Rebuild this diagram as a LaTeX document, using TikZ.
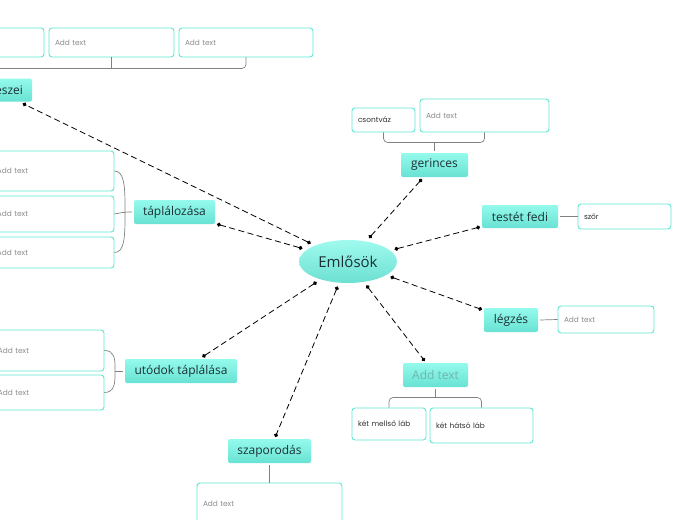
\documentclass[tikz,border=0pt]{standalone}
\usepackage{fontspec}
\usepackage{tikz}
\usetikzlibrary{arrows.meta,shapes.geometric}
\newfontfamily\topicfont{Open Sans}
\newfontfamily\leaffont{Poppins}
\definecolor{topictop}{RGB}{148,250,236}
\definecolor{topicbot}{RGB}{104,226,211}
\definecolor{maintop}{RGB}{160,250,238}
\definecolor{mainbot}{RGB}{108,224,210}
\definecolor{leafline}{RGB}{94,232,210}
\definecolor{topictext}{RGB}{28,48,52}
\definecolor{bracegray}{RGB}{130,130,130}
\definecolor{hinttext}{RGB}{140,140,140}
\definecolor{hinttopic}{RGB}{112,182,174}

\begin{document}
\begin{tikzpicture}[x=1pt,y=-1pt,
	topic/.style={rectangle,rounded corners=2pt,top color=topictop,bottom color=topicbot,text=topictext,font=\topicfont\fontsize{12}{14}\selectfont,inner sep=0pt,outer sep=2pt},
	leaf/.style={draw=leafline,line width=0.9pt,rounded corners=3pt,fill=white,font=\leaffont\fontsize{7.4}{9}\selectfont,text=hinttext,align=left,inner xsep=6pt,inner ysep=0pt},
	dark/.style={text=black!80},
	link/.style={draw,line width=0.8pt,dash pattern=on 6pt off 3.5pt,{Circle[length=4pt]}-{Circle[length=4pt]}},
	brace/.style={draw=bracegray,line width=0.7pt,rounded corners=4pt}]
	\useasboundingbox (0,0) rectangle (697,520);
	\clip (0,0) rectangle (697,520);
	\node[ellipse,top color=maintop,bottom color=mainbot,minimum width=98pt,minimum height=43pt,inner sep=0pt,outer sep=4pt,text=topictext,font=\topicfont\fontsize{15}{18}\selectfont] (Em) at (348,261.5) {Emlősök};
	\node[topic,minimum width=74pt,minimum height=23pt,text width=56pt,align=right,inner xsep=9pt] (Resz) at (-5,90) {eszei};
	\node[topic,minimum width=81pt,minimum height=24pt] (Tap) at (174.5,212) {táplálozása};
	\node[topic,minimum width=67pt,minimum height=24pt] (Ger) at (434.5,165) {gerinces};
	\node[topic,minimum width=76pt,minimum height=23pt] (Test) at (520,216.5) {testét fedi};
	\node[topic,minimum width=54pt,minimum height=24pt] (Legz) at (511,320) {légzés};
	\node[topic,minimum width=65pt,minimum height=24pt,text=hinttopic] (Addl) at (435.5,375) {Add text};
	\node[topic,minimum width=112pt,minimum height=24pt] (Utod) at (181,371) {utódok táplálása};
	\node[topic,minimum width=83pt,minimum height=24pt] (Szap) at (269.5,451) {szaporodás};
	% leaves
	\node[leaf,text width=113pt,minimum height=29pt] (Ta) at (-18.5,42.5) {};
	\node[leaf,text width=113pt,minimum height=29pt] (Tb) at (111.5,42.5) {Add text};
	\node[leaf,text width=122pt,minimum height=29pt] (Tc) at (246,42.5) {Add text};
	\node[leaf,text width=111pt,minimum height=40pt] (T1) at (52.5,171) {Add text};
	\node[leaf,text width=111pt,minimum height=36pt] (T2) at (52.5,214) {Add text};
	\node[leaf,text width=111pt,minimum height=31pt] (T3) at (52.5,252.5) {Add text};
	\node[leaf,text width=100pt,minimum height=41pt] (U1) at (48,350.5) {Add text};
	\node[leaf,text width=100pt,minimum height=35pt] (U2) at (48,392.5) {Add text};
	\node[leaf,dark,text width=51pt,minimum height=24pt] (Csont) at (383.5,120) {csontváz};
	\node[leaf,text width=117pt,minimum height=33pt] (Gadd) at (484.5,115.5) {Add text};
	\node[leaf,dark,text width=81pt,minimum height=25pt] (Szor) at (624.5,216.5) {szőr};
	\node[leaf,text width=84pt,minimum height=27pt] (Ladd) at (606,319.5) {Add text};
	\node[leaf,dark,text width=62pt,minimum height=32pt] (Mello) at (389,424) {két mellső láb};
	\node[leaf,dark,text width=91pt,minimum height=35pt] (Hatso) at (481.5,425.5) {két hátsó láb};
	\node[leaf,text width=133pt,minimum height=42pt] (Szadd) at (269.5,504) {Add text};
	\coordinate (Tapj) at (125,212);
	\coordinate (Utj) at (115,371);
	% brackets
	\draw[brace] (Tc.south) -- ++(0,11) -| (Ta.south);
	\draw[brace] (Tb.south) -- ++(0,11);
	\draw[brace] (T1.east) .. controls +(10,0) and +(0,-25) .. (Tapj) .. controls +(0,25) and +(10,0) .. (T3.east);
	\draw[brace] (T2.east) -- (Tapj) -- (Tap.west);
	\draw[brace] (U1.east) .. controls +(10,0) and +(0,-12) .. (Utj) .. controls +(0,12) and +(10,0) .. (U2.east);
	\draw[brace] (Utj) -- (Utod.west);
	\draw[brace] (Csont.south) -- ++(0,10) -| (Gadd.south);
	\draw[brace] (Ger.north) -- ++(0,-9);
	\draw[brace] (Mello.north) -- ++(0,-10) -| (Hatso.north);
	\draw[brace] (Addl.south) -- ++(0,9);
	\draw[brace] (Test.east) -- (Szor.west);
	\draw[brace] (Legz.east) -- (Ladd.west);
	\draw[brace] (Szap.south) -- (Szadd.north);
	% links
	\path[link] (Em) edge (Resz) (Em) edge (Tap) (Em) edge (Ger) (Em) edge (Test);
	\path[link] (Em) edge (Legz) (Em) edge (Addl) (Em) edge (Utod) (Em) edge (Szap);
\end{tikzpicture}
\end{document}
